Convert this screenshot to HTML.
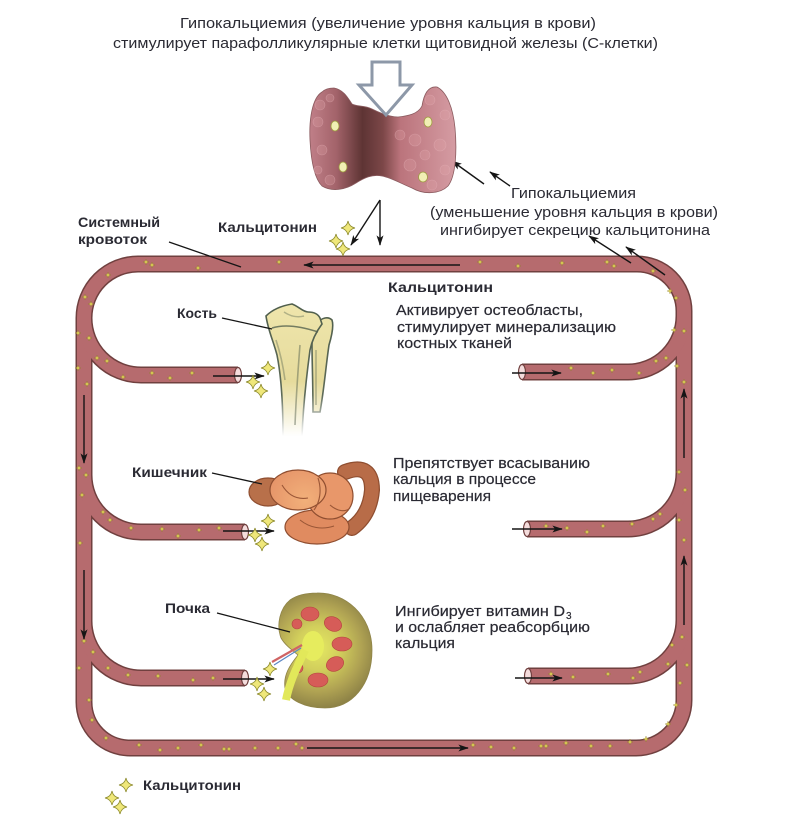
<!DOCTYPE html>
<html>
<head>
<meta charset="utf-8">
<style>
  html,body{margin:0;padding:0;background:#ffffff;}
  svg{display:block;}
  .t{font-family:"Liberation Sans","DejaVu Sans",sans-serif;fill:#2a2a33;}
  .b{font-weight:bold;}
  .m{stroke:#2a2a33;stroke-width:0.2;}
</style>
</head>
<body>
<svg width="807" height="823" viewBox="0 0 807 823" xmlns="http://www.w3.org/2000/svg">
  <defs>
    <marker id="ah" viewBox="0 0 12 8" refX="11" refY="4" markerWidth="12" markerHeight="7" markerUnits="userSpaceOnUse" orient="auto">
      <path d="M0,0 L12,4 L0,8 L3,4 Z" fill="#151515"/>
    </marker>
    <linearGradient id="thy" x1="310" y1="0" x2="456" y2="0" gradientUnits="userSpaceOnUse">
      <stop offset="0" stop-color="#c07f88"/>
      <stop offset="0.18" stop-color="#a3636a"/>
      <stop offset="0.36" stop-color="#5e3434"/>
      <stop offset="0.5" stop-color="#7c4748"/>
      <stop offset="0.62" stop-color="#bb747c"/>
      <stop offset="1" stop-color="#d59ca3"/>
    </linearGradient>
    <linearGradient id="bone" x1="0" y1="300" x2="0" y2="436" gradientUnits="userSpaceOnUse">
      <stop offset="0" stop-color="#efe6ad"/>
      <stop offset="0.6" stop-color="#e6db9c"/>
      <stop offset="1" stop-color="#ffffff"/>
    </linearGradient>
    <linearGradient id="bonestroke" x1="0" y1="300" x2="0" y2="436" gradientUnits="userSpaceOnUse">
      <stop offset="0" stop-color="#4f5e4c"/>
      <stop offset="0.7" stop-color="#5d6a58"/>
      <stop offset="1" stop-color="#ffffff"/>
    </linearGradient>
    <radialGradient id="kid" cx="318" cy="648" r="62" gradientUnits="userSpaceOnUse">
      <stop offset="0" stop-color="#e4e862"/>
      <stop offset="0.35" stop-color="#d2cf5c"/>
      <stop offset="0.7" stop-color="#b0a353"/>
      <stop offset="1" stop-color="#8a7f45"/>
    </radialGradient>
    <radialGradient id="gut" cx="305" cy="500" r="70" gradientUnits="userSpaceOnUse">
      <stop offset="0" stop-color="#f2b07a"/>
      <stop offset="0.6" stop-color="#e49167"/>
      <stop offset="1" stop-color="#c27350"/>
    </radialGradient>
  </defs>

  <rect x="0" y="0" width="807" height="823" fill="#ffffff"/>

  <!-- ===== Vessels: borders ===== -->
  <g fill="none" stroke="#70403f" stroke-width="17" stroke-linejoin="round">
    <path d="M 630 264 L 138 264 A 54 54 0 0 0 84 318 L 84 702 A 46 46 0 0 0 130 748 L 636 748 A 48 48 0 0 0 684 700 L 684 311 A 47 47 0 0 0 637 264 Z"/>
    <path d="M 84 318 A 57 57 0 0 0 141 375 L 238 375"/>
    <path d="M 84 475 A 57 57 0 0 0 141 532 L 245 532"/>
    <path d="M 84 621 A 57 57 0 0 0 141 678 L 245 678"/>
    <path d="M 522 372 L 628 372 A 56 56 0 0 0 684 316"/>
    <path d="M 527 529 L 628 529 A 56 56 0 0 0 684 473"/>
    <path d="M 528 676 L 628 676 A 56 56 0 0 0 684 620"/>
  </g>
  <!-- ===== Vessels: fill ===== -->
  <g fill="none" stroke="#b66b6e" stroke-width="14" stroke-linejoin="round">
    <path d="M 630 264 L 138 264 A 54 54 0 0 0 84 318 L 84 702 A 46 46 0 0 0 130 748 L 636 748 A 48 48 0 0 0 684 700 L 684 311 A 47 47 0 0 0 637 264 Z"/>
    <path d="M 84 318 A 57 57 0 0 0 141 375 L 238 375"/>
    <path d="M 84 475 A 57 57 0 0 0 141 532 L 245 532"/>
    <path d="M 84 621 A 57 57 0 0 0 141 678 L 245 678"/>
    <path d="M 522 372 L 628 372 A 56 56 0 0 0 684 316"/>
    <path d="M 527 529 L 628 529 A 56 56 0 0 0 684 473"/>
    <path d="M 528 676 L 628 676 A 56 56 0 0 0 684 620"/>
  </g>
  <!-- open vessel ends -->
  <g fill="#f4dcdc" stroke="#70403f" stroke-width="1.2">
    <ellipse cx="238" cy="375" rx="3.5" ry="7.5"/>
    <ellipse cx="245" cy="532" rx="3.5" ry="7.5"/>
    <ellipse cx="245" cy="678" rx="3.5" ry="7.5"/>
    <ellipse cx="522" cy="372" rx="3.5" ry="7.5"/>
    <ellipse cx="527" cy="529" rx="3.5" ry="7.5"/>
    <ellipse cx="528" cy="676" rx="3.5" ry="7.5"/>
  </g>

  <!-- tiny calcitonin dots in vessels -->
  <g fill="#e8dc5a" stroke="#7a6a20" stroke-width="0.3">
    <path transform="translate(146,262)" d="M0,-3 L0.7,-0.7 L3,0 L0.7,0.7 L0,3 L-0.7,0.7 L-3,0 L-0.7,-0.7Z"/>
    <path transform="translate(152,265)" d="M0,-3 L0.7,-0.7 L3,0 L0.7,0.7 L0,3 L-0.7,0.7 L-3,0 L-0.7,-0.7Z"/>
    <path transform="translate(198,268)" d="M0,-3 L0.7,-0.7 L3,0 L0.7,0.7 L0,3 L-0.7,0.7 L-3,0 L-0.7,-0.7Z"/>
    <path transform="translate(279,262)" d="M0,-3 L0.7,-0.7 L3,0 L0.7,0.7 L0,3 L-0.7,0.7 L-3,0 L-0.7,-0.7Z"/>
    <path transform="translate(480,262)" d="M0,-3 L0.7,-0.7 L3,0 L0.7,0.7 L0,3 L-0.7,0.7 L-3,0 L-0.7,-0.7Z"/>
    <path transform="translate(518,266)" d="M0,-3 L0.7,-0.7 L3,0 L0.7,0.7 L0,3 L-0.7,0.7 L-3,0 L-0.7,-0.7Z"/>
    <path transform="translate(562,263)" d="M0,-3 L0.7,-0.7 L3,0 L0.7,0.7 L0,3 L-0.7,0.7 L-3,0 L-0.7,-0.7Z"/>
    <path transform="translate(607,262)" d="M0,-3 L0.7,-0.7 L3,0 L0.7,0.7 L0,3 L-0.7,0.7 L-3,0 L-0.7,-0.7Z"/>
    <path transform="translate(614,266)" d="M0,-3 L0.7,-0.7 L3,0 L0.7,0.7 L0,3 L-0.7,0.7 L-3,0 L-0.7,-0.7Z"/>
    <path transform="translate(108,275)" d="M0,-3 L0.7,-0.7 L3,0 L0.7,0.7 L0,3 L-0.7,0.7 L-3,0 L-0.7,-0.7Z"/>
    <path transform="translate(85,297)" d="M0,-3 L0.7,-0.7 L3,0 L0.7,0.7 L0,3 L-0.7,0.7 L-3,0 L-0.7,-0.7Z"/>
    <path transform="translate(91,304)" d="M0,-3 L0.7,-0.7 L3,0 L0.7,0.7 L0,3 L-0.7,0.7 L-3,0 L-0.7,-0.7Z"/>
    <path transform="translate(78,333)" d="M0,-3 L0.7,-0.7 L3,0 L0.7,0.7 L0,3 L-0.7,0.7 L-3,0 L-0.7,-0.7Z"/>
    <path transform="translate(89,338)" d="M0,-3 L0.7,-0.7 L3,0 L0.7,0.7 L0,3 L-0.7,0.7 L-3,0 L-0.7,-0.7Z"/>
    <path transform="translate(97,358)" d="M0,-3 L0.7,-0.7 L3,0 L0.7,0.7 L0,3 L-0.7,0.7 L-3,0 L-0.7,-0.7Z"/>
    <path transform="translate(107,361)" d="M0,-3 L0.7,-0.7 L3,0 L0.7,0.7 L0,3 L-0.7,0.7 L-3,0 L-0.7,-0.7Z"/>
    <path transform="translate(123,377)" d="M0,-3 L0.7,-0.7 L3,0 L0.7,0.7 L0,3 L-0.7,0.7 L-3,0 L-0.7,-0.7Z"/>
    <path transform="translate(152,373)" d="M0,-3 L0.7,-0.7 L3,0 L0.7,0.7 L0,3 L-0.7,0.7 L-3,0 L-0.7,-0.7Z"/>
    <path transform="translate(170,378)" d="M0,-3 L0.7,-0.7 L3,0 L0.7,0.7 L0,3 L-0.7,0.7 L-3,0 L-0.7,-0.7Z"/>
    <path transform="translate(192,373)" d="M0,-3 L0.7,-0.7 L3,0 L0.7,0.7 L0,3 L-0.7,0.7 L-3,0 L-0.7,-0.7Z"/>
    <path transform="translate(78,368)" d="M0,-3 L0.7,-0.7 L3,0 L0.7,0.7 L0,3 L-0.7,0.7 L-3,0 L-0.7,-0.7Z"/>
    <path transform="translate(87,384)" d="M0,-3 L0.7,-0.7 L3,0 L0.7,0.7 L0,3 L-0.7,0.7 L-3,0 L-0.7,-0.7Z"/>
    <path transform="translate(79,468)" d="M0,-3 L0.7,-0.7 L3,0 L0.7,0.7 L0,3 L-0.7,0.7 L-3,0 L-0.7,-0.7Z"/>
    <path transform="translate(86,475)" d="M0,-3 L0.7,-0.7 L3,0 L0.7,0.7 L0,3 L-0.7,0.7 L-3,0 L-0.7,-0.7Z"/>
    <path transform="translate(82,495)" d="M0,-3 L0.7,-0.7 L3,0 L0.7,0.7 L0,3 L-0.7,0.7 L-3,0 L-0.7,-0.7Z"/>
    <path transform="translate(103,512)" d="M0,-3 L0.7,-0.7 L3,0 L0.7,0.7 L0,3 L-0.7,0.7 L-3,0 L-0.7,-0.7Z"/>
    <path transform="translate(110,520)" d="M0,-3 L0.7,-0.7 L3,0 L0.7,0.7 L0,3 L-0.7,0.7 L-3,0 L-0.7,-0.7Z"/>
    <path transform="translate(131,528)" d="M0,-3 L0.7,-0.7 L3,0 L0.7,0.7 L0,3 L-0.7,0.7 L-3,0 L-0.7,-0.7Z"/>
    <path transform="translate(162,529)" d="M0,-3 L0.7,-0.7 L3,0 L0.7,0.7 L0,3 L-0.7,0.7 L-3,0 L-0.7,-0.7Z"/>
    <path transform="translate(178,536)" d="M0,-3 L0.7,-0.7 L3,0 L0.7,0.7 L0,3 L-0.7,0.7 L-3,0 L-0.7,-0.7Z"/>
    <path transform="translate(199,530)" d="M0,-3 L0.7,-0.7 L3,0 L0.7,0.7 L0,3 L-0.7,0.7 L-3,0 L-0.7,-0.7Z"/>
    <path transform="translate(219,528)" d="M0,-3 L0.7,-0.7 L3,0 L0.7,0.7 L0,3 L-0.7,0.7 L-3,0 L-0.7,-0.7Z"/>
    <path transform="translate(80,543)" d="M0,-3 L0.7,-0.7 L3,0 L0.7,0.7 L0,3 L-0.7,0.7 L-3,0 L-0.7,-0.7Z"/>
    <path transform="translate(84,641)" d="M0,-3 L0.7,-0.7 L3,0 L0.7,0.7 L0,3 L-0.7,0.7 L-3,0 L-0.7,-0.7Z"/>
    <path transform="translate(93,652)" d="M0,-3 L0.7,-0.7 L3,0 L0.7,0.7 L0,3 L-0.7,0.7 L-3,0 L-0.7,-0.7Z"/>
    <path transform="translate(79,668)" d="M0,-3 L0.7,-0.7 L3,0 L0.7,0.7 L0,3 L-0.7,0.7 L-3,0 L-0.7,-0.7Z"/>
    <path transform="translate(108,668)" d="M0,-3 L0.7,-0.7 L3,0 L0.7,0.7 L0,3 L-0.7,0.7 L-3,0 L-0.7,-0.7Z"/>
    <path transform="translate(128,675)" d="M0,-3 L0.7,-0.7 L3,0 L0.7,0.7 L0,3 L-0.7,0.7 L-3,0 L-0.7,-0.7Z"/>
    <path transform="translate(158,676)" d="M0,-3 L0.7,-0.7 L3,0 L0.7,0.7 L0,3 L-0.7,0.7 L-3,0 L-0.7,-0.7Z"/>
    <path transform="translate(193,680)" d="M0,-3 L0.7,-0.7 L3,0 L0.7,0.7 L0,3 L-0.7,0.7 L-3,0 L-0.7,-0.7Z"/>
    <path transform="translate(213,678)" d="M0,-3 L0.7,-0.7 L3,0 L0.7,0.7 L0,3 L-0.7,0.7 L-3,0 L-0.7,-0.7Z"/>
    <path transform="translate(89,700)" d="M0,-3 L0.7,-0.7 L3,0 L0.7,0.7 L0,3 L-0.7,0.7 L-3,0 L-0.7,-0.7Z"/>
    <path transform="translate(92,720)" d="M0,-3 L0.7,-0.7 L3,0 L0.7,0.7 L0,3 L-0.7,0.7 L-3,0 L-0.7,-0.7Z"/>
    <path transform="translate(106,738)" d="M0,-3 L0.7,-0.7 L3,0 L0.7,0.7 L0,3 L-0.7,0.7 L-3,0 L-0.7,-0.7Z"/>
    <path transform="translate(139,745)" d="M0,-3 L0.7,-0.7 L3,0 L0.7,0.7 L0,3 L-0.7,0.7 L-3,0 L-0.7,-0.7Z"/>
    <path transform="translate(160,750)" d="M0,-3 L0.7,-0.7 L3,0 L0.7,0.7 L0,3 L-0.7,0.7 L-3,0 L-0.7,-0.7Z"/>
    <path transform="translate(178,748)" d="M0,-3 L0.7,-0.7 L3,0 L0.7,0.7 L0,3 L-0.7,0.7 L-3,0 L-0.7,-0.7Z"/>
    <path transform="translate(201,745)" d="M0,-3 L0.7,-0.7 L3,0 L0.7,0.7 L0,3 L-0.7,0.7 L-3,0 L-0.7,-0.7Z"/>
    <path transform="translate(224,749)" d="M0,-3 L0.7,-0.7 L3,0 L0.7,0.7 L0,3 L-0.7,0.7 L-3,0 L-0.7,-0.7Z"/>
    <path transform="translate(229,749)" d="M0,-3 L0.7,-0.7 L3,0 L0.7,0.7 L0,3 L-0.7,0.7 L-3,0 L-0.7,-0.7Z"/>
    <path transform="translate(255,748)" d="M0,-3 L0.7,-0.7 L3,0 L0.7,0.7 L0,3 L-0.7,0.7 L-3,0 L-0.7,-0.7Z"/>
    <path transform="translate(278,748)" d="M0,-3 L0.7,-0.7 L3,0 L0.7,0.7 L0,3 L-0.7,0.7 L-3,0 L-0.7,-0.7Z"/>
    <path transform="translate(296,744)" d="M0,-3 L0.7,-0.7 L3,0 L0.7,0.7 L0,3 L-0.7,0.7 L-3,0 L-0.7,-0.7Z"/>
    <path transform="translate(302,748)" d="M0,-3 L0.7,-0.7 L3,0 L0.7,0.7 L0,3 L-0.7,0.7 L-3,0 L-0.7,-0.7Z"/>
    <path transform="translate(473,745)" d="M0,-3 L0.7,-0.7 L3,0 L0.7,0.7 L0,3 L-0.7,0.7 L-3,0 L-0.7,-0.7Z"/>
    <path transform="translate(491,747)" d="M0,-3 L0.7,-0.7 L3,0 L0.7,0.7 L0,3 L-0.7,0.7 L-3,0 L-0.7,-0.7Z"/>
    <path transform="translate(514,748)" d="M0,-3 L0.7,-0.7 L3,0 L0.7,0.7 L0,3 L-0.7,0.7 L-3,0 L-0.7,-0.7Z"/>
    <path transform="translate(541,746)" d="M0,-3 L0.7,-0.7 L3,0 L0.7,0.7 L0,3 L-0.7,0.7 L-3,0 L-0.7,-0.7Z"/>
    <path transform="translate(546,746)" d="M0,-3 L0.7,-0.7 L3,0 L0.7,0.7 L0,3 L-0.7,0.7 L-3,0 L-0.7,-0.7Z"/>
    <path transform="translate(566,743)" d="M0,-3 L0.7,-0.7 L3,0 L0.7,0.7 L0,3 L-0.7,0.7 L-3,0 L-0.7,-0.7Z"/>
    <path transform="translate(591,746)" d="M0,-3 L0.7,-0.7 L3,0 L0.7,0.7 L0,3 L-0.7,0.7 L-3,0 L-0.7,-0.7Z"/>
    <path transform="translate(610,746)" d="M0,-3 L0.7,-0.7 L3,0 L0.7,0.7 L0,3 L-0.7,0.7 L-3,0 L-0.7,-0.7Z"/>
    <path transform="translate(630,742)" d="M0,-3 L0.7,-0.7 L3,0 L0.7,0.7 L0,3 L-0.7,0.7 L-3,0 L-0.7,-0.7Z"/>
    <path transform="translate(646,739)" d="M0,-3 L0.7,-0.7 L3,0 L0.7,0.7 L0,3 L-0.7,0.7 L-3,0 L-0.7,-0.7Z"/>
    <path transform="translate(668,724)" d="M0,-3 L0.7,-0.7 L3,0 L0.7,0.7 L0,3 L-0.7,0.7 L-3,0 L-0.7,-0.7Z"/>
    <path transform="translate(676,705)" d="M0,-3 L0.7,-0.7 L3,0 L0.7,0.7 L0,3 L-0.7,0.7 L-3,0 L-0.7,-0.7Z"/>
    <path transform="translate(680,683)" d="M0,-3 L0.7,-0.7 L3,0 L0.7,0.7 L0,3 L-0.7,0.7 L-3,0 L-0.7,-0.7Z"/>
    <path transform="translate(687,665)" d="M0,-3 L0.7,-0.7 L3,0 L0.7,0.7 L0,3 L-0.7,0.7 L-3,0 L-0.7,-0.7Z"/>
    <path transform="translate(668,664)" d="M0,-3 L0.7,-0.7 L3,0 L0.7,0.7 L0,3 L-0.7,0.7 L-3,0 L-0.7,-0.7Z"/>
    <path transform="translate(640,672)" d="M0,-3 L0.7,-0.7 L3,0 L0.7,0.7 L0,3 L-0.7,0.7 L-3,0 L-0.7,-0.7Z"/>
    <path transform="translate(633,678)" d="M0,-3 L0.7,-0.7 L3,0 L0.7,0.7 L0,3 L-0.7,0.7 L-3,0 L-0.7,-0.7Z"/>
    <path transform="translate(608,674)" d="M0,-3 L0.7,-0.7 L3,0 L0.7,0.7 L0,3 L-0.7,0.7 L-3,0 L-0.7,-0.7Z"/>
    <path transform="translate(573,677)" d="M0,-3 L0.7,-0.7 L3,0 L0.7,0.7 L0,3 L-0.7,0.7 L-3,0 L-0.7,-0.7Z"/>
    <path transform="translate(551,674)" d="M0,-3 L0.7,-0.7 L3,0 L0.7,0.7 L0,3 L-0.7,0.7 L-3,0 L-0.7,-0.7Z"/>
    <path transform="translate(672,645)" d="M0,-3 L0.7,-0.7 L3,0 L0.7,0.7 L0,3 L-0.7,0.7 L-3,0 L-0.7,-0.7Z"/>
    <path transform="translate(682,637)" d="M0,-3 L0.7,-0.7 L3,0 L0.7,0.7 L0,3 L-0.7,0.7 L-3,0 L-0.7,-0.7Z"/>
    <path transform="translate(684,540)" d="M0,-3 L0.7,-0.7 L3,0 L0.7,0.7 L0,3 L-0.7,0.7 L-3,0 L-0.7,-0.7Z"/>
    <path transform="translate(679,520)" d="M0,-3 L0.7,-0.7 L3,0 L0.7,0.7 L0,3 L-0.7,0.7 L-3,0 L-0.7,-0.7Z"/>
    <path transform="translate(660,514)" d="M0,-3 L0.7,-0.7 L3,0 L0.7,0.7 L0,3 L-0.7,0.7 L-3,0 L-0.7,-0.7Z"/>
    <path transform="translate(653,519)" d="M0,-3 L0.7,-0.7 L3,0 L0.7,0.7 L0,3 L-0.7,0.7 L-3,0 L-0.7,-0.7Z"/>
    <path transform="translate(632,524)" d="M0,-3 L0.7,-0.7 L3,0 L0.7,0.7 L0,3 L-0.7,0.7 L-3,0 L-0.7,-0.7Z"/>
    <path transform="translate(603,526)" d="M0,-3 L0.7,-0.7 L3,0 L0.7,0.7 L0,3 L-0.7,0.7 L-3,0 L-0.7,-0.7Z"/>
    <path transform="translate(587,532)" d="M0,-3 L0.7,-0.7 L3,0 L0.7,0.7 L0,3 L-0.7,0.7 L-3,0 L-0.7,-0.7Z"/>
    <path transform="translate(567,528)" d="M0,-3 L0.7,-0.7 L3,0 L0.7,0.7 L0,3 L-0.7,0.7 L-3,0 L-0.7,-0.7Z"/>
    <path transform="translate(546,526)" d="M0,-3 L0.7,-0.7 L3,0 L0.7,0.7 L0,3 L-0.7,0.7 L-3,0 L-0.7,-0.7Z"/>
    <path transform="translate(685,490)" d="M0,-3 L0.7,-0.7 L3,0 L0.7,0.7 L0,3 L-0.7,0.7 L-3,0 L-0.7,-0.7Z"/>
    <path transform="translate(679,472)" d="M0,-3 L0.7,-0.7 L3,0 L0.7,0.7 L0,3 L-0.7,0.7 L-3,0 L-0.7,-0.7Z"/>
    <path transform="translate(684,382)" d="M0,-3 L0.7,-0.7 L3,0 L0.7,0.7 L0,3 L-0.7,0.7 L-3,0 L-0.7,-0.7Z"/>
    <path transform="translate(677,366)" d="M0,-3 L0.7,-0.7 L3,0 L0.7,0.7 L0,3 L-0.7,0.7 L-3,0 L-0.7,-0.7Z"/>
    <path transform="translate(666,358)" d="M0,-3 L0.7,-0.7 L3,0 L0.7,0.7 L0,3 L-0.7,0.7 L-3,0 L-0.7,-0.7Z"/>
    <path transform="translate(656,361)" d="M0,-3 L0.7,-0.7 L3,0 L0.7,0.7 L0,3 L-0.7,0.7 L-3,0 L-0.7,-0.7Z"/>
    <path transform="translate(639,373)" d="M0,-3 L0.7,-0.7 L3,0 L0.7,0.7 L0,3 L-0.7,0.7 L-3,0 L-0.7,-0.7Z"/>
    <path transform="translate(612,370)" d="M0,-3 L0.7,-0.7 L3,0 L0.7,0.7 L0,3 L-0.7,0.7 L-3,0 L-0.7,-0.7Z"/>
    <path transform="translate(593,373)" d="M0,-3 L0.7,-0.7 L3,0 L0.7,0.7 L0,3 L-0.7,0.7 L-3,0 L-0.7,-0.7Z"/>
    <path transform="translate(571,368)" d="M0,-3 L0.7,-0.7 L3,0 L0.7,0.7 L0,3 L-0.7,0.7 L-3,0 L-0.7,-0.7Z"/>
    <path transform="translate(684,331)" d="M0,-3 L0.7,-0.7 L3,0 L0.7,0.7 L0,3 L-0.7,0.7 L-3,0 L-0.7,-0.7Z"/>
    <path transform="translate(674,330)" d="M0,-3 L0.7,-0.7 L3,0 L0.7,0.7 L0,3 L-0.7,0.7 L-3,0 L-0.7,-0.7Z"/>
    <path transform="translate(676,298)" d="M0,-3 L0.7,-0.7 L3,0 L0.7,0.7 L0,3 L-0.7,0.7 L-3,0 L-0.7,-0.7Z"/>
    <path transform="translate(670,291)" d="M0,-3 L0.7,-0.7 L3,0 L0.7,0.7 L0,3 L-0.7,0.7 L-3,0 L-0.7,-0.7Z"/>
    <path transform="translate(653,271)" d="M0,-3 L0.7,-0.7 L3,0 L0.7,0.7 L0,3 L-0.7,0.7 L-3,0 L-0.7,-0.7Z"/>
  </g>

  <!-- ===== Vessel arrows ===== -->
  <g stroke="#151515" stroke-width="1.4" fill="none" marker-end="url(#ah)">
    <line x1="460" y1="265" x2="304" y2="265"/>
    <line x1="84" y1="395" x2="84" y2="463"/>
    <line x1="84" y1="570" x2="84" y2="639"/>
    <line x1="684" y1="458" x2="684" y2="389"/>
    <line x1="684" y1="625" x2="684" y2="556"/>
    <line x1="307" y1="748" x2="468" y2="748"/>
    <line x1="213" y1="376" x2="264" y2="376"/>
    <line x1="223" y1="531" x2="274" y2="531"/>
    <line x1="223" y1="679" x2="274" y2="679"/>
    <line x1="512" y1="373" x2="561" y2="373"/>
    <line x1="512" y1="529" x2="562" y2="529"/>
    <line x1="515" y1="678" x2="562" y2="678"/>
    <line x1="380" y1="200" x2="351" y2="245"/>
    <line x1="380" y1="200" x2="380" y2="245"/>
    <line x1="484" y1="184" x2="452" y2="161"/>
    <line x1="510" y1="186" x2="490" y2="172"/>
    <line x1="631" y1="263" x2="589" y2="236"/>
    <line x1="665" y1="275" x2="626" y2="247"/>
  </g>

  <!-- ===== Thyroid ===== -->
  <path d="M 322 92 C 312 98 309 120 310 140 C 311 160 314 178 322 186 C 332 192 345 190 356 183 C 364 178 372 174 382 176 C 392 178 402 184 412 188 C 424 195 440 194 448 186 C 456 176 457 150 455 128 C 453 108 447 92 437 87 C 428 86 424 94 422 106 C 418 114 408 116 398 117 C 390 117 382 114 372 109 C 364 105 357 107 352 104 C 348 98 344 90 334 88 C 328 88 324 90 322 92 Z" fill="url(#thy)" stroke="#8a5a5e" stroke-width="0.8"/>
  <g fill="#e2a6ad" fill-opacity="0.25" stroke="#e8b6bc" stroke-width="0.6" stroke-opacity="0.45">
    <circle cx="320" cy="105" r="5"/><circle cx="330" cy="98" r="4"/><circle cx="318" cy="122" r="5"/>
    <circle cx="322" cy="150" r="5"/><circle cx="318" cy="170" r="4"/><circle cx="330" cy="180" r="5"/>
    <circle cx="415" cy="140" r="6"/><circle cx="430" cy="100" r="5"/><circle cx="445" cy="115" r="5"/>
    <circle cx="440" cy="145" r="6"/><circle cx="445" cy="170" r="5"/><circle cx="410" cy="165" r="6"/>
    <circle cx="425" cy="155" r="5"/><circle cx="400" cy="135" r="5"/><circle cx="432" cy="185" r="5"/>
  </g>
  <g fill="#f1efb4" stroke="#9d9b40" stroke-width="0.8">
    <ellipse cx="335" cy="126" rx="4" ry="5"/>
    <ellipse cx="343" cy="167" rx="4" ry="5"/>
    <ellipse cx="428" cy="122" rx="4" ry="5"/>
    <ellipse cx="423" cy="177" rx="4.5" ry="5"/>
  </g>
  <!-- hollow arrow -->
  <path d="M 372 62 L 400 62 L 400 85 L 412 85 L 386 115 L 359 85 L 372 85 Z" fill="#ffffff" stroke="#8d98a8" stroke-width="3" stroke-linejoin="miter"/>

  <!-- ===== Bone ===== -->
  <path d="M 318 322 C 322 318 328 316 332 320 C 334 326 332 335 329 345 C 326 365 324 390 320 412 L 313 412 C 313 385 312 360 312 345 C 312 335 314 327 318 322 Z" fill="url(#bone)" stroke="url(#bonestroke)" stroke-width="1.6"/>
  <path d="M 266 316 C 272 310 280 306 292 304 C 298 306 303 312 308 312 C 314 312 318 314 320 318 L 322 324 C 316 332 312 340 310 350 C 306 380 303 410 302 436 L 283 436 C 283 405 281 375 277 355 C 273 340 268 330 266 316 Z" fill="url(#bone)" stroke="url(#bonestroke)" stroke-width="1.6"/>
  <g fill="none" stroke="#56634f" stroke-width="1.6" opacity="0.8">
    <path d="M 272 328 C 285 324 300 326 318 332"/>
    <path d="M 300 345 C 298 370 296 400 295 425" opacity="0.6"/>
    <path d="M 276 340 C 280 352 283 365 285 380" opacity="0.5"/>
    <path d="M 316 350 C 316 370 316 390 316 405" opacity="0.5"/>
    <path d="M 284 312 C 290 316 296 318 304 316" opacity="0.5"/>
  </g>

  <!-- ===== Intestine ===== -->
  <g stroke="#8f4e30" stroke-width="1.2">
    <path d="M 345 472 Q 372 462 372 490 Q 370 515 352 528" fill="none" stroke="#8f4e30" stroke-width="16" stroke-linecap="round"/>
    <path d="M 345 472 Q 372 462 372 490 Q 370 515 352 528" fill="none" stroke="#b86c48" stroke-width="13.5" stroke-linecap="round"/>
    <ellipse cx="317" cy="527" rx="32" ry="17" fill="#e08b60"/>
    <ellipse cx="268" cy="492" rx="19" ry="14" fill="#b8704a"/>
    <ellipse cx="330" cy="496" rx="23" ry="23" fill="#e8976a"/>
    <ellipse cx="298" cy="490" rx="28" ry="20" fill="url(#gut)"/>
  </g>
  <g fill="none" stroke="#9a5636" stroke-width="1.1">
    <path d="M 282 485 C 288 495 296 500 308 498"/>
    <path d="M 318 478 C 322 490 320 502 314 510"/>
    <path d="M 330 505 C 338 512 346 512 350 508"/>
    <path d="M 300 520 C 310 528 322 530 334 526"/>
  </g>

  <!-- ===== Kidney ===== -->
  <path d="M 317 593 C 345 592 372 615 372 650 C 372 685 352 708 325 708 C 305 708 288 700 285 688 C 283 675 290 665 298 655 C 292 650 285 645 281 638 C 276 625 280 608 290 600 C 297 595 307 593 317 593 Z" fill="url(#kid)" stroke="#8f8448" stroke-width="0.8"/>
  <ellipse cx="313" cy="646" rx="11" ry="15" fill="#e6ec5e"/>
  <g fill="#d65c58" stroke="#b4443f" stroke-width="0.6">
    <ellipse cx="310" cy="614" rx="9" ry="7"/>
    <ellipse cx="333" cy="624" rx="9" ry="7" transform="rotate(25 333 624)"/>
    <ellipse cx="342" cy="644" rx="10" ry="7"/>
    <ellipse cx="335" cy="664" rx="9" ry="7" transform="rotate(-25 335 664)"/>
    <ellipse cx="318" cy="680" rx="10" ry="7"/>
    <ellipse cx="298" cy="668" rx="5" ry="5"/>
    <ellipse cx="297" cy="624" rx="5" ry="5"/>
  </g>
  <path d="M 305 650 C 298 665 290 680 286 700" fill="none" stroke="#e2e85a" stroke-width="8"/>
  <path d="M 302 645 L 272 662" stroke="#d06464" stroke-width="2.2"/>
  <path d="M 301 648 L 274 665" stroke="#5a86c2" stroke-width="1.2"/>

  <!-- ===== Hormone stars ===== -->
  <g fill="#efe77a" stroke="#8c8a2e" stroke-width="0.8">
    <path transform="translate(348,228)" d="M0,-7 Q1.2,-1.2 7,0 Q1.2,1.2 0,7 Q-1.2,1.2 -7,0 Q-1.2,-1.2 0,-7Z"/>
    <path transform="translate(336,241)" d="M0,-7 Q1.2,-1.2 7,0 Q1.2,1.2 0,7 Q-1.2,1.2 -7,0 Q-1.2,-1.2 0,-7Z"/>
    <path transform="translate(343,249)" d="M0,-7 Q1.2,-1.2 7,0 Q1.2,1.2 0,7 Q-1.2,1.2 -7,0 Q-1.2,-1.2 0,-7Z"/>

    <path transform="translate(268,368)" d="M0,-7 Q1.2,-1.2 7,0 Q1.2,1.2 0,7 Q-1.2,1.2 -7,0 Q-1.2,-1.2 0,-7Z"/>
    <path transform="translate(253,382)" d="M0,-7 Q1.2,-1.2 7,0 Q1.2,1.2 0,7 Q-1.2,1.2 -7,0 Q-1.2,-1.2 0,-7Z"/>
    <path transform="translate(261,391)" d="M0,-7 Q1.2,-1.2 7,0 Q1.2,1.2 0,7 Q-1.2,1.2 -7,0 Q-1.2,-1.2 0,-7Z"/>

    <path transform="translate(268,521)" d="M0,-7 Q1.2,-1.2 7,0 Q1.2,1.2 0,7 Q-1.2,1.2 -7,0 Q-1.2,-1.2 0,-7Z"/>
    <path transform="translate(255,535)" d="M0,-7 Q1.2,-1.2 7,0 Q1.2,1.2 0,7 Q-1.2,1.2 -7,0 Q-1.2,-1.2 0,-7Z"/>
    <path transform="translate(262,544)" d="M0,-7 Q1.2,-1.2 7,0 Q1.2,1.2 0,7 Q-1.2,1.2 -7,0 Q-1.2,-1.2 0,-7Z"/>

    <path transform="translate(270,669)" d="M0,-7 Q1.2,-1.2 7,0 Q1.2,1.2 0,7 Q-1.2,1.2 -7,0 Q-1.2,-1.2 0,-7Z"/>
    <path transform="translate(257,684)" d="M0,-7 Q1.2,-1.2 7,0 Q1.2,1.2 0,7 Q-1.2,1.2 -7,0 Q-1.2,-1.2 0,-7Z"/>
    <path transform="translate(264,694)" d="M0,-7 Q1.2,-1.2 7,0 Q1.2,1.2 0,7 Q-1.2,1.2 -7,0 Q-1.2,-1.2 0,-7Z"/>

    <path transform="translate(126,785)" d="M0,-7 Q1.2,-1.2 7,0 Q1.2,1.2 0,7 Q-1.2,1.2 -7,0 Q-1.2,-1.2 0,-7Z"/>
    <path transform="translate(112,798)" d="M0,-7 Q1.2,-1.2 7,0 Q1.2,1.2 0,7 Q-1.2,1.2 -7,0 Q-1.2,-1.2 0,-7Z"/>
    <path transform="translate(120,807)" d="M0,-7 Q1.2,-1.2 7,0 Q1.2,1.2 0,7 Q-1.2,1.2 -7,0 Q-1.2,-1.2 0,-7Z"/>
  </g>

  <!-- ===== Leader lines ===== -->
  <g stroke="#151515" stroke-width="1.3">
    <line x1="169" y1="242" x2="241" y2="267"/>
    <line x1="222" y1="318" x2="272" y2="329"/>
    <line x1="212" y1="473" x2="262" y2="484"/>
    <line x1="217" y1="613" x2="290" y2="632"/>
  </g>

  <!-- ===== Text ===== -->
  <text class="t" x="180" y="28" font-size="15" textLength="416" lengthAdjust="spacingAndGlyphs">Гипокальциемия (увеличение уровня кальция в крови)</text>
  <text class="t" x="113" y="48" font-size="15" textLength="545" lengthAdjust="spacingAndGlyphs">стимулирует парафолликулярные клетки щитовидной железы (С-клетки)</text>

  <text class="t" x="511" y="198" font-size="15" textLength="125" lengthAdjust="spacingAndGlyphs">Гипокальциемия</text>
  <text class="t" x="430" y="217" font-size="15" textLength="288" lengthAdjust="spacingAndGlyphs">(уменьшение уровня кальция в крови)</text>
  <text class="t" x="440" y="235" font-size="15" textLength="270" lengthAdjust="spacingAndGlyphs">ингибирует секрецию кальцитонина</text>

  <text class="t b" x="78" y="227" font-size="14" textLength="82" lengthAdjust="spacingAndGlyphs">Системный</text>
  <text class="t b" x="78" y="244" font-size="14" textLength="69" lengthAdjust="spacingAndGlyphs">кровоток</text>
  <text class="t b" x="218" y="232" font-size="14" textLength="99" lengthAdjust="spacingAndGlyphs">Кальцитонин</text>

  <text class="t b" x="388" y="292" font-size="14" textLength="105" lengthAdjust="spacingAndGlyphs">Кальцитонин</text>
  <text class="t m" x="396" y="315" font-size="15" textLength="187" lengthAdjust="spacingAndGlyphs">Активирует остеобласты,</text>
  <text class="t m" x="397" y="332" font-size="15" textLength="219" lengthAdjust="spacingAndGlyphs">стимулирует минерализацию</text>
  <text class="t m" x="397" y="348" font-size="15" textLength="115" lengthAdjust="spacingAndGlyphs">костных тканей</text>

  <text class="t m" x="393" y="468" font-size="15" textLength="197" lengthAdjust="spacingAndGlyphs">Препятствует всасыванию</text>
  <text class="t m" x="393" y="484" font-size="15" textLength="143" lengthAdjust="spacingAndGlyphs">кальция в процессе</text>
  <text class="t m" x="393" y="501" font-size="15" textLength="98" lengthAdjust="spacingAndGlyphs">пищеварения</text>

  <text class="t m" x="395" y="616" font-size="15" textLength="170" lengthAdjust="spacingAndGlyphs">Ингибирует витамин D</text>
  <text class="t m" x="566" y="619" font-size="10">3</text>
  <text class="t m" x="395" y="632" font-size="15" textLength="195" lengthAdjust="spacingAndGlyphs">и ослабляет реабсорбцию</text>
  <text class="t m" x="395" y="648" font-size="15" textLength="60" lengthAdjust="spacingAndGlyphs">кальция</text>

  <text class="t b" x="177" y="318" font-size="14" textLength="40" lengthAdjust="spacingAndGlyphs">Кость</text>
  <text class="t b" x="132" y="477" font-size="14" textLength="75" lengthAdjust="spacingAndGlyphs">Кишечник</text>
  <text class="t b" x="165" y="613" font-size="14" textLength="45" lengthAdjust="spacingAndGlyphs">Почка</text>

  <text class="t b" x="143" y="790" font-size="14" textLength="98" lengthAdjust="spacingAndGlyphs">Кальцитонин</text>
</svg>
</body>
</html>
